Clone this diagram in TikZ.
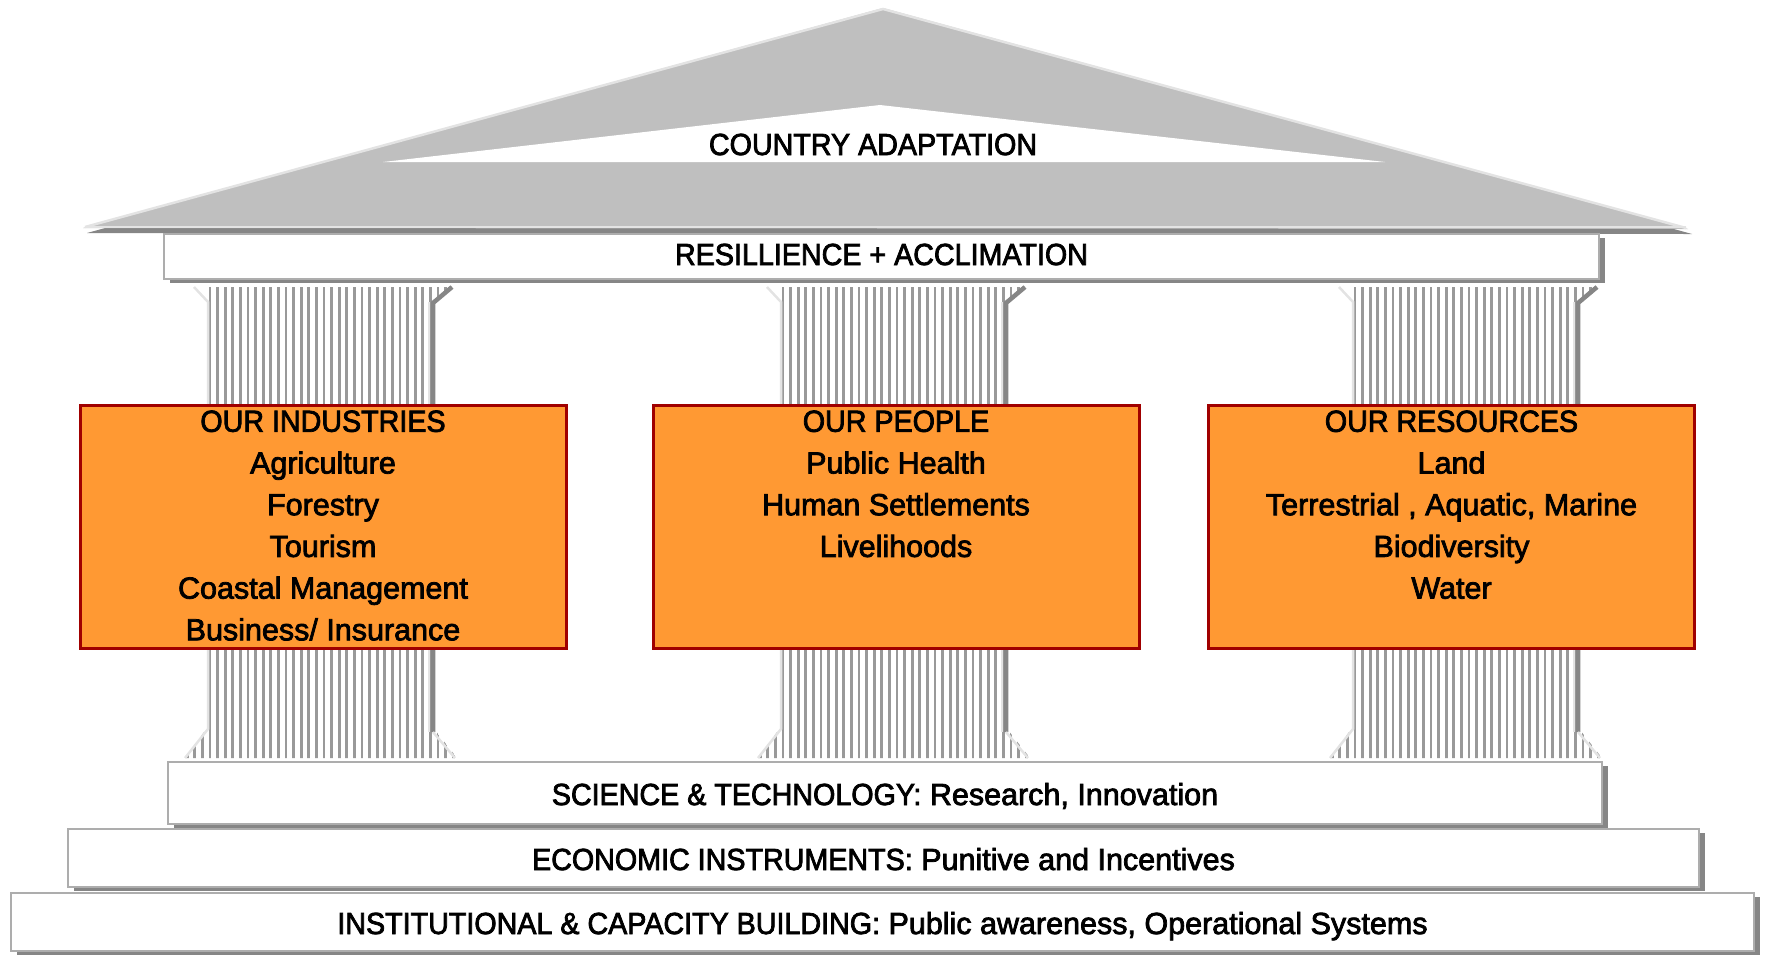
\documentclass[tikz,border=0pt]{standalone}
\usepackage{fontspec}
\setmainfont{Liberation Sans}[FakeStretch=1.0,FakeBold=2.5]
\newfontfamily\capsfont{Liberation Sans}[FakeStretch=0.94,FakeBold=2.5]
\usepackage{xcolor}
\usepackage{tikz}
\usetikzlibrary{positioning}
\usetikzlibrary{shadows}
\definecolor{roofgray}{HTML}{BFBFBF}
\definecolor{shadowgray}{HTML}{868686}
\definecolor{edgegray}{HTML}{ADADAD}
\definecolor{lightedge}{HTML}{E3E3E3}
\definecolor{stripegray}{HTML}{999999}
\definecolor{boxorange}{HTML}{FF9933}
\definecolor{boxred}{HTML}{A00000}

\begin{document}
\begin{tikzpicture}[x=1pt,y=-1pt,
    bigfont/.style={font=\fontsize{30.5}{41.7}\selectfont},
    plank/.style={bigfont,fill=white,draw=edgegray,line width=2pt,inner sep=0pt,
      text height=24pt,text depth=0pt,
      general shadow={fill=shadowgray,shadow xshift=6pt,shadow yshift=-4pt}},
    sectorbox/.style={draw=boxred,fill=boxorange,line width=3pt,inner sep=0pt,
      minimum width=486pt,minimum height=243pt},
    sectortext/.style={bigfont,align=center,inner sep=0pt},
    plaintext/.style={bigfont,anchor=base,inner sep=0pt}]
    \useasboundingbox (0,0) rectangle (1766,956);
    % roof
    \fill[shadowgray] (87,233) -- (887,13) -- (1692,234) -- cycle;
    \fill[roofgray] (83,228) -- (883,8) -- (1688,229) -- cycle;
    \draw[lightedge,line width=2.5pt] (85,227) -- (883,9) -- (1686,228);
    \draw[lightedge,line width=2pt] (86,227) -- (1686,227);
    \fill[white] (383,162) -- (880,105) -- (1385,162) -- cycle;
    \node[plaintext] (roofname) at (873,155) {\capsfont COUNTRY ADAPTATION};
    % columns
    \foreach \c in {321,894,1466}{
      \begin{scope}
        \clip (\c-114,287) -- (\c+130,287) -- (\c+114,302) -- (\c+114,730) -- (\c+136,758)
          -- (\c-136,758) -- (\c-114,728) -- cycle;
        \foreach \k in {-3,...,34}
          \draw[stripegray,line width=2.8pt] (\c-111+7.6*\k,280) -- (\c-111+7.6*\k,765);
      \end{scope}
      \draw[lightedge,line width=2.5pt] (\c-127,287) -- (\c-113,302) -- (\c-113,729) -- (\c-136,758);
      \draw[lightedge,line width=2pt] (\c+108,302) -- (\c+108,732);
      \draw[shadowgray,line width=4.5pt] (\c+131,287) -- (\c+112,303) -- (\c+112,732);
      \draw[lightedge,line width=2.5pt] (\c+112,732) -- (\c+134,758);
    }
    % beams
    \node[plank,minimum width=1435pt,minimum height=45pt,text height=18pt] (beam) at (881.5,256) {\capsfont RESILLIENCE + ACCLIMATION};
    \node[plank,minimum width=1434pt,minimum height=62pt] (science) at (885,793) {{\capsfont SCIENCE \& TECHNOLOGY:} Research, Innovation};
    \node[plank,minimum width=1631pt,minimum height=58pt] (economic) at (883.5,858) {{\capsfont ECONOMIC INSTRUMENTS:} Punitive and Incentives};
    \node[plank,minimum width=1743pt,minimum height=58pt] (institutional) at (882.5,922) {{\capsfont INSTITUTIONAL \& CAPACITY BUILDING:} Public awareness, Operational Systems};
    % sectors
    \node[sectorbox] (industries) at (323,527) {};
    \node[sectorbox] (people) at (896,527) {};
    \node[sectorbox] (resources) at (1451.5,527) {};
    \node[sectortext,below=6.3pt of industries.north] (industrieslist)
      {{\capsfont OUR INDUSTRIES}\\Agriculture\\Forestry\\Tourism\\Coastal Management\\Business/ Insurance};
    \node[sectortext,below=6.3pt of people.north] (peoplelist)
      {{\capsfont OUR PEOPLE}\\Public Health\\Human Settlements\\Livelihoods};
    \node[sectortext,below=6.3pt of resources.north] (resourceslist)
      {{\capsfont OUR RESOURCES}\\Land\\Terrestrial , Aquatic, Marine\\Biodiversity\\Water};
\end{tikzpicture}
\end{document}
